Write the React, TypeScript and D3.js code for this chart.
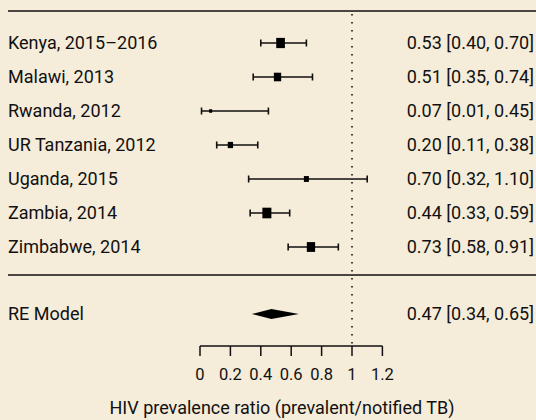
import React from "react";
import * as d3 from "d3";

const studies = [
  "Kenya, 2015–2016",
  "Malawi, 2013",
  "Rwanda, 2012",
  "UR Tanzania, 2012",
  "Uganda, 2015",
  "Zambia, 2014",
  "Zimbabwe, 2014",
];
const estimates = [0.53, 0.51, 0.07, 0.2, 0.7, 0.44, 0.73];
const lowers = [0.4, 0.35, 0.01, 0.11, 0.32, 0.33, 0.58];
const uppers = [0.7, 0.74, 0.45, 0.38, 1.1, 0.59, 0.91];
const weights = [75, 53, 9, 28, 25, 81, 69];

const pooledLabel = "RE Model";
const pooled = [0.47, 0.34, 0.65];

const xTicks = [0, 0.2, 0.4, 0.6, 0.8, 1, 1.2];
const xTitle = "HIV prevalence ratio (prevalent/notified TB)";

const W = 536;
const H = 420;
const BG = "#F5ECD9";
const INK = "#111111";
const FONT = "Roboto, 'Noto Sans', sans-serif";
const WEIGHT = 400;

const fmt = (v: number) => d3.format(".2f")(v);

export default function App() {
  React.useEffect(() => {
    document.body.style.margin = "0";
    document.body.style.background = BG;
  }, []);

  const x = d3.scaleLinear().domain([0, 1]).range([200, 352]);
  // row positions: first study at row 7, last at row 1, pooled at -1
  const y = d3.scaleLinear().domain([7, 1]).range([43, 247]);
  const side = d3.scaleSqrt().domain([0, 81]).range([0, 9]);
  const rows = studies.map((_, i) => studies.length - i);

  const topLine = y(7.94);
  const midLine = y(0.18);
  const pooledY = y(-0.97);
  const axisY = 346;

  const diamond = d3.line<[number, number]>()([
    [x(pooled[1]), pooledY],
    [x(pooled[0]), pooledY - 5],
    [x(pooled[2]), pooledY],
    [x(pooled[0]), pooledY + 5],
  ]) + "Z";

  return (
    <svg width={W} height={H} style={{ display: "block" }} fontFamily={FONT} fontWeight={WEIGHT}>
      <rect x={0} y={0} width={W} height={H} fill={BG} />
      <line x1={8} x2={W} y1={topLine} y2={topLine} stroke={INK} strokeWidth={1.5} />
      <line x1={8} x2={W} y1={midLine} y2={midLine} stroke={INK} strokeWidth={1.5} />
      <line
        x1={x(1)}
        x2={x(1)}
        y1={14}
        y2={axisY - 2}
        stroke={INK}
        strokeWidth={1.6}
        strokeDasharray="1.6 6.4"
      />
      {studies.map((s, i) => {
        const cy = y(rows[i]);
        const w = side(weights[i]);
        const h = w * 1.18;
        return (
          <g key={s}>
            <text x={8} y={cy + 6.3} fontSize={18} fill={INK}>
              {s}
            </text>
            <line x1={x(lowers[i])} x2={x(uppers[i])} y1={cy} y2={cy} stroke={INK} strokeWidth={1.7} />
            <line x1={x(lowers[i])} x2={x(lowers[i])} y1={cy - 3.5} y2={cy + 3.5} stroke={INK} strokeWidth={1.6} />
            <line x1={x(uppers[i])} x2={x(uppers[i])} y1={cy - 3.5} y2={cy + 3.5} stroke={INK} strokeWidth={1.6} />
            <rect x={x(estimates[i]) - w / 2} y={cy - h / 2} width={w} height={h} fill="#000" />
            <text x={534} y={cy + 6.3} fontSize={18} fill={INK} textAnchor="end">
              {`${fmt(estimates[i])} [${fmt(lowers[i])}, ${fmt(uppers[i])}]`}
            </text>
          </g>
        );
      })}
      <text x={8} y={pooledY + 6.3} fontSize={18} fill={INK}>
        {pooledLabel}
      </text>
      <path d={diamond} fill="#000" />
      <text x={534} y={pooledY + 6.3} fontSize={18} fill={INK} textAnchor="end">
        {`${fmt(pooled[0])} [${fmt(pooled[1])}, ${fmt(pooled[2])}]`}
      </text>
      <line x1={x(0)} x2={x(1.2)} y1={axisY} y2={axisY} stroke={INK} strokeWidth={1.5} />
      {xTicks.map((t) => (
        <g key={t}>
          <line x1={x(t)} x2={x(t)} y1={axisY} y2={axisY + 10} stroke={INK} strokeWidth={1.5} />
          <text x={x(t)} y={axisY + 34} fontSize={16.5} fill={INK} textAnchor="middle">
            {d3.format("")(t)}
          </text>
        </g>
      ))}
      <text x={282} y={414} fontSize={18} fill={INK} textAnchor="middle">
        {xTitle}
      </text>
    </svg>
  );
}
